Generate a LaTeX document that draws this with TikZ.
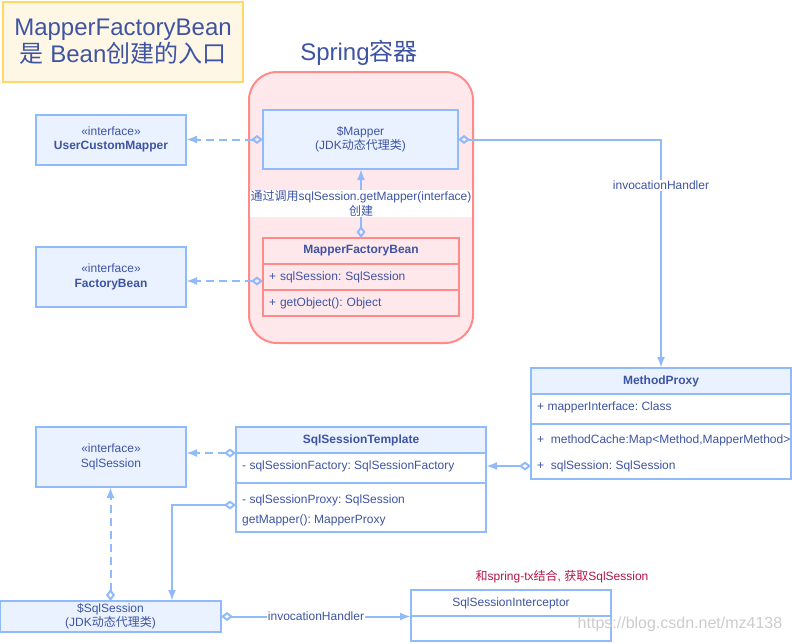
\documentclass[tikz,border=0pt]{standalone}
\usepackage{fontspec}
\setmainfont{Liberation Sans}
\newfontfamily\cjk{Noto Sans CJK SC}
\usetikzlibrary{arrows.meta,positioning}

\definecolor{txtblue}{RGB}{62,84,163}
\definecolor{lineblue}{RGB}{145,186,250}
\definecolor{fillblue}{RGB}{234,242,255}
\definecolor{springfill}{RGB}{255,232,236}
\definecolor{springline}{RGB}{255,138,138}
\definecolor{notefill}{RGB}{255,247,230}
\definecolor{noteline}{RGB}{255,217,102}
\definecolor{notered}{RGB}{178,20,70}

\newcommand\bodyfont{\fontsize{12}{14.5}\selectfont\frenchspacing}
\newcommand\bigfont{\fontsize{24}{27}\selectfont}

\begin{document}
\begin{tikzpicture}[x=1pt,y=-1pt,font=\bodyfont,text=txtblue]
    \tikzset{
      box/.style={draw=lineblue, fill=fillblue, line width=2pt,
        outer sep=0pt, inner sep=0pt, align=center},
      iface/.style={box, minimum width=150pt},
      hdr/.style={box, minimum height=26pt, font=\bodyfont\bfseries},
      cbody/.style={box, fill=white},
      row/.style={anchor=west, inner sep=0pt},
      sep/.style={draw=lineblue, line width=1.5pt},
      mfbbox/.style={box, draw=springline, fill=springfill,
        minimum width=196pt, minimum height=26pt},
      mfbrow/.style={mfbbox, text width=184pt, inner xsep=6pt, align=left},
      note/.style={draw=noteline, fill=notefill, line width=2pt, align=center,
        font=\bigfont, minimum width=240pt, minimum height=80pt},
      spring/.style={draw=springline, fill=springfill, line width=2pt,
        rounded corners=28pt, minimum width=224pt, minimum height=271pt},
      lbl/.style={fill=white, inner sep=1pt, align=center},
      assoc/.style={draw=lineblue, line width=2pt,
        {Diamond[open,length=12pt,width=9pt]}-{Latex[length=11pt,width=8pt]}},
      dep/.style={assoc, dash pattern=on 8pt off 5pt}
    };

    \useasboundingbox (0,0) rectangle (792,643);

    \node [note, anchor=north west] (title) at (2,1)
      {MapperFactoryBean\\{\cjk 是} Bean{\cjk 创建的入口}};
    \node [spring, anchor=north west] (spring) at (248,71) {};
    \node [font=\bigfont] (springlbl) at (359,53) {Spring{\cjk 容器}};

    \node [box, anchor=north west, minimum width=195pt, minimum height=59pt] (mapper)
      at (263,110) {\$Mapper\\(JDK{\cjk 动态代理类})};
    \node [iface, minimum height=50pt, left=77pt of mapper] (ucm)
      {«interface»\\\textbf{UserCustomMapper}};

    \node [mfbbox, anchor=north west, font=\bodyfont\bfseries] (mfb) at (263,238)
      {MapperFactoryBean};
    \node [mfbrow, below=0pt of mfb] (mfbattr) {+ sqlSession: SqlSession};
    \node [mfbrow, below=0pt of mfbattr] (mfbmeth) {+ getObject(): Object};
    \node [iface, minimum height=60pt, left=77pt of mfbattr] (fbean)
      {«interface»\\\textbf{FactoryBean}};

    \node [hdr, anchor=north west, minimum width=260pt] (mp) at (531,368) {MethodProxy};
    \node [cbody, minimum width=260pt, minimum height=85pt, below=0pt of mp] (mpbody) {};
    \node [row] (mpiface) at (537,407) {+ mapperInterface: Class};
    \draw [sep] (mpbody.west |- 0,424) -- (mpbody.east |- 0,424);
    \node [row] (mpcache) at (537,440) {\mbox{+ \ methodCache:Map<Method,MapperMethod>}};
    \node [row] (mpsess) at (537,466) {+ \ sqlSession: SqlSession};

    \node [hdr, anchor=north west, minimum width=250pt] (sst) at (236,427) {SqlSessionTemplate};
    \node [cbody, minimum width=250pt, minimum height=79pt, below=0pt of sst] (sstbody) {};
    \node [row] (sstfactory) at (242,466) {- sqlSessionFactory: SqlSessionFactory};
    \draw [sep] (sstbody.west |- 0,483) -- (sstbody.east |- 0,483);
    \node [row] (sstproxy) at (242,500) {- sqlSessionProxy: SqlSession};
    \node [row] (sstmapper) at (242,520) {getMapper(): MapperProxy};

    \node [iface, anchor=north west, minimum height=60pt] (sqlsess) at (36,427)
      {«interface»\\SqlSession};

    \node [box, anchor=north west, minimum width=221pt, minimum height=31pt] (sqlproxy)
      at (0,601) {\$SqlSession\\(JDK{\cjk 动态代理类})};

    \node [cbody, anchor=north west, minimum width=200pt, minimum height=26pt] (ssi)
      at (411,590) {SqlSessionInterceptor};
    \node [cbody, minimum width=200pt, minimum height=25pt, below=0pt of ssi] (ssibody) {};
    \node [text=notered] (txnote) at (562,577)
      {{\cjk 和}spring-tx{\cjk 结合}, {\cjk 获取}SqlSession};

    % connectors
    \path [dep] (mapper.west) -- (ucm.east);
    \path [assoc] (mfb.north) -- (mfb.north |- mapper.south)
      node [lbl, midway] (createlbl)
      {{\cjk 通过调用}sqlSession.getMapper(interface)\\{\cjk 创建}};
    \path [dep] ([yshift=-4pt]mfbattr.west) -- ([yshift=-4pt]fbean.east);
    \path [assoc] (mapper.east) -| (mp.north)
      node [lbl, pos=0.6] (ihlbl) {invocationHandler};
    \path [assoc] (mpbody.west |- mpsess) -- (mpsess -| sstbody.east);
    \path [dep] (sst.south west) -- (sst.south west -| sqlsess.east);
    \path [assoc] ([yshift=-5pt]sstproxy.west -| sstbody.west)
      -| ([xshift=-49pt]sqlproxy.north east);
    \path [dep] (sqlproxy.north) -- (sqlproxy.north |- sqlsess.south);
    \path [assoc] (sqlproxy.east) -- (sqlproxy.east -| ssi.west)
      node [lbl, midway] (ihlbl2) {invocationHandler};

    \node [text=black!20, font=\fontsize{16}{18}\selectfont] (mark) at (680,624)
      {https://blog.csdn.net/mz4138};

  \end{tikzpicture}
\end{document}
